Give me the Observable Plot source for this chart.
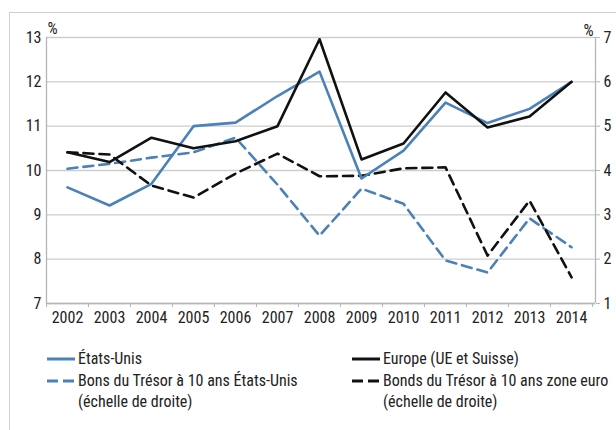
<!DOCTYPE html>
<html>
<head>
<meta charset="utf-8">
<script src="https://cdn.jsdelivr.net/npm/d3@7"></script>
<script src="https://cdn.jsdelivr.net/npm/@observablehq/plot@0.6"></script>
<style>
  html, body { margin: 0; padding: 0; background: #fff; }
  #wrap { position: relative; width: 616px; height: 430px; overflow: hidden;
          font-family: "Roboto Condensed", "Roboto", sans-serif; color: #222; }
  #frame { position: absolute; left: 9px; top: 12px; width: 800px; height: 600px;
           border-left: 1.5px solid #cfcfcf; border-top: 1.5px solid #cfcfcf; }
  #chart { position: absolute; left: 0; top: 0; }
  #legend { position: absolute; left: 0; top: 330px; }
</style>
</head>
<body>
<div id="wrap"><div id="frame"></div><div id="chart"></div><div id="legend"></div></div>
<script>
const years = [2002, 2003, 2004, 2005, 2006, 2007, 2008, 2009, 2010, 2011, 2012, 2013, 2014];
const usa     = [9.62, 9.21, 9.70, 11.00, 11.08, 11.68, 12.23, 9.82, 10.45, 11.53, 11.07, 11.39, 12.00];
const europe  = [10.41, 10.19, 10.74, 10.50, 10.66, 11.00, 12.96, 10.25, 10.61, 11.76, 10.97, 11.22, 12.00];
const usBond  = [4.04, 4.15, 4.29, 4.41, 4.74, 3.68, 2.53, 3.59, 3.25, 1.97, 1.70, 2.92, 2.27];
const euBond  = [4.41, 4.36, 3.66, 3.39, 3.93, 4.38, 3.87, 3.88, 4.05, 4.07, 2.08, 3.32, 1.59];
const leftTicks = [7, 8, 9, 10, 11, 12, 13];
const rightTicks = [1, 2, 3, 4, 5, 6, 7];
const legendLabels = ["États-Unis", "Europe (UE et Suisse)", "Bons du Trésor à 10 ans États-Unis", "Bonds du Trésor à 10 ans zone euro", "(échelle de droite)"];

const offset = 6; // right scale value + offset = left scale value
const blue = "#4a81b9";
const black = "#111";
const font = '"Roboto Condensed", "Roboto", sans-serif';

const rows = years.map((y, i) => ({year: y, usa: usa[i], europe: europe[i], usBond: usBond[i] + offset, euBond: euBond[i] + offset}));
const bounds = [years[0] - 0.5, ...years.map(y => y + 0.5)];

const chart = Plot.plot({
  width: 616, height: 330,
  marginLeft: 46, marginRight: 21, marginTop: 37, marginBottom: 27,
  style: {fontFamily: font, fontSize: "16px", color: "#222", background: "transparent"},
  x: {domain: [2001.5, 2014.57], label: null},
  y: {domain: [7, 13], label: null},
  marks: [
    Plot.gridY(leftTicks, {stroke: "#cdcdcd", strokeOpacity: 1, strokeWidth: 1.3}),
    Plot.ruleX([2001.5, 2014.57], {stroke: "#b5b5b5", strokeWidth: 1.3}),
    Plot.ruleY([7], {stroke: "#b5b5b5", strokeWidth: 1.3}),
    Plot.axisX(bounds, {tickSize: 4, tickFormat: () => "", stroke: "#b5b5b5", label: null}),
    Plot.axisX(years, {tickSize: 0, tickPadding: 8, tickFormat: d => String(d), fontSize: 16, label: null}),
    Plot.axisY(leftTicks, {anchor: "left", tickSize: 0, tickPadding: 5, fontSize: 16, label: null}),
    Plot.axisY(leftTicks, {anchor: "right", tickSize: 4, tickPadding: 4, stroke: "#b5b5b5", tickFormat: d => String(d - offset), fontSize: 16, label: null}),
    Plot.text(["%"], {frameAnchor: "top-left", dx: 1, dy: -4, textAnchor: "start", lineAnchor: "bottom", fontSize: 16}),
    Plot.text(["%"], {frameAnchor: "top-right", dx: -2, dy: -2, textAnchor: "end", lineAnchor: "bottom", fontSize: 16}),
    Plot.line(rows, {x: "year", y: "usBond", stroke: blue, strokeWidth: 2.6, strokeDasharray: "10,6"}),
    Plot.line(rows, {x: "year", y: "euBond", stroke: black, strokeWidth: 2.6, strokeDasharray: "10,6"}),
    Plot.line(rows, {x: "year", y: "usa", stroke: blue, strokeWidth: 2.6}),
    Plot.line(rows, {x: "year", y: "europe", stroke: black, strokeWidth: 2.6})
  ]
});
document.getElementById("chart").appendChild(chart);

// legend
const lg = d3.select("#legend").append("svg").attr("width", 616).attr("height", 100)
  .style("font-family", font).style("font-size", "16px");
const items = [
  {x: 47, y: 29, color: blue, dash: null, lines: [legendLabels[0]]},
  {x: 352, y: 29, color: black, dash: null, lines: [legendLabels[1]]},
  {x: 47, y: 51, color: blue, dash: "11,5", lines: [legendLabels[2], legendLabels[4]]},
  {x: 352, y: 51, color: black, dash: "11,5", lines: [legendLabels[3], legendLabels[4]]}
];
items.forEach(it => {
  lg.append("line").attr("x1", it.x).attr("x2", it.x + 28).attr("y1", it.y).attr("y2", it.y)
    .attr("stroke", it.color).attr("stroke-width", 3).attr("stroke-dasharray", it.dash);
  it.lines.forEach((t, k) => {
    lg.append("text").attr("x", it.x + 31).attr("y", it.y + 5 + k * 21).attr("fill", "#222").text(t);
  });
});
</script>
</body>
</html>
